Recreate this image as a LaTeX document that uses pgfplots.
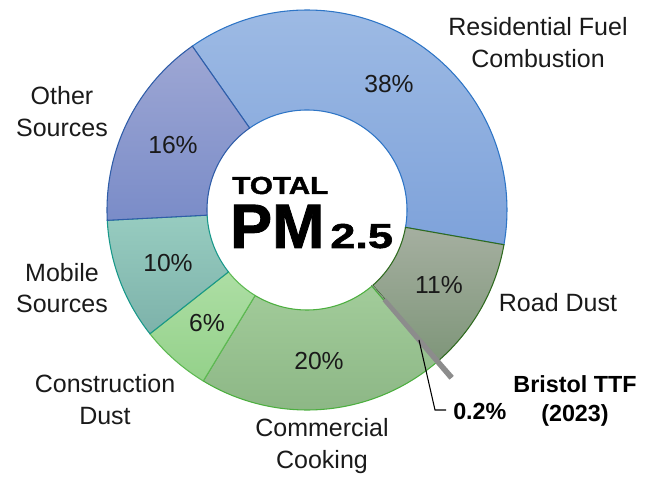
\documentclass[border=0pt]{standalone}
\usepackage{pgfplots}
\pgfplotsset{compat=1.18}
\usepackage{fontspec}
\setmainfont{Liberation Sans}
\newfontfamily\heavy[FakeBold=1.5]{Liberation Sans Bold}

\definecolor{resT}{HTML}{9DBAE4}\definecolor{resB}{HTML}{7EA2DA}\definecolor{resD}{HTML}{2E75C6}
\definecolor{roadT}{HTML}{A5AFA0}\definecolor{roadB}{HTML}{7F967A}\definecolor{roadD}{HTML}{2F6B1F}
\definecolor{ttfC}{HTML}{8C8C8C}
\definecolor{comT}{HTML}{A2CC9A}\definecolor{comB}{HTML}{8DB786}\definecolor{comD}{HTML}{4CAF3F}
\definecolor{conT}{HTML}{ADDEA4}\definecolor{conB}{HTML}{94D18A}\definecolor{conD}{HTML}{5DB952}
\definecolor{mobT}{HTML}{97CCC0}\definecolor{mobB}{HTML}{7DB2AA}\definecolor{mobD}{HTML}{18988A}
\definecolor{othT}{HTML}{9EA7D4}\definecolor{othB}{HTML}{7A8CC8}\definecolor{othD}{HTML}{2F5DA8}
\definecolor{txt}{HTML}{1A1A1A}

% donut geometry (axis units = px)
\def\cx{307}\def\cy{267}\def\Rout{200}\def\Rin{100}\def\startang{125}
\gdef\cum{0}

% #1 share (%), #2 top colour, #3 bottom colour, #4 border colour, #5 border width, #6 explode distance
\newcommand\seg[6]{%
  \pgfmathsetmacro\segA{\startang-3.6*\cum}%
  \pgfmathsetmacro\segB{\startang-3.6*(\cum+#1)}%
  \pgfmathsetmacro\segX{\cx+#6*cos((\segA+\segB)/2)}%
  \pgfmathsetmacro\segY{\cy+#6*sin((\segA+\segB)/2)}%
  \edef\doseg{\noexpand\addplot[draw=#4, line width=#5, top color=#2, bottom color=#3,
      domain=0:3, samples=241, variable=\noexpand\t]
    ({\segX+(\Rout-(\Rout-\Rin)*min(1,max(0,\noexpand\t-1)))*cos(\segA+(\segB-\segA)*min(min(\noexpand\t,1),3-\noexpand\t))},
     {\segY+(\Rout-(\Rout-\Rin)*min(1,max(0,\noexpand\t-1)))*sin(\segA+(\segB-\segA)*min(min(\noexpand\t,1),3-\noexpand\t))}) -- cycle;}%
  \doseg
  \pgfmathsetmacro\newcum{\cum+#1}\global\let\cum\newcum
}

\begin{document}
\begin{tikzpicture}
\begin{axis}[scale only axis, width=490.5pt, height=357.75pt,
  xmin=0, xmax=654, ymin=0, ymax=477, axis lines=none, clip=false]
\coordinate (bl) at (rel axis cs:0,0);
\coordinate (tr) at (rel axis cs:1,1);
% shares of total PM2.5 (%), clockwise from the top-left
\seg{37.5}{resT}{resB}{resD}{0.8pt}{0}   % Residential Fuel Combustion
\seg{10.8}{roadT}{roadB}{roadD}{0.8pt}{0} % Road Dust
\pgfmathsetmacro\ttfstart{\cum}
\seg{0.2}{ttfC}{ttfC}{ttfC}{0pt}{0}      % advance for Bristol TTF
\seg{19.9}{comT}{comB}{comD}{0.8pt}{0}    % Commercial Cooking
\seg{5.7}{conT}{conB}{conD}{0.8pt}{0}     % Construction Dust
\seg{9.8}{mobT}{mobB}{mobD}{0.8pt}{0}     % Mobile Sources
\seg{16.1}{othT}{othB}{othD}{0.8pt}{0}    % Other Sources
% Bristol TTF slice, exploded
\global\let\cum\ttfstart
\seg{0.2}{ttfC}{ttfC}{ttfC}{2.4pt}{20}

% leader for the TTF slice
\draw[black, line width=0.8pt] (axis cs:419,137) -- (axis cs:435,67) -- (axis cs:446,67);

% centre title
\node[anchor=base west, inner sep=0pt, xscale=1.2] at (axis cs:232,283) {\fontsize{18.5pt}{18.5pt}\heavy TOTAL};
\node[anchor=base west, inner sep=0pt] at (axis cs:230,229) {\fontsize{47pt}{47pt}\heavy PM};
\node[anchor=base west, inner sep=0pt, xscale=1.3] at (axis cs:330,229) {\fontsize{26pt}{26pt}\heavy 2.5};

% percentages
\begin{scope}[every node/.style={inner sep=0pt, text=txt, font=\fontsize{18.5pt}{20pt}\selectfont}]
\node at (axis cs:389,393) {38\%};
\node at (axis cs:439,192) {11\%};
\node at (axis cs:319,116) {20\%};
\node at (axis cs:207,154) {6\%};
\node at (axis cs:168,214) {10\%};
\node at (axis cs:173,332) {16\%};
\end{scope}

% category labels
\begin{scope}[every node/.style={inner sep=0pt, anchor=base, text=txt, font=\fontsize{18.75pt}{20pt}\selectfont}]
\node at (axis cs:538,441) {Residential Fuel};
\node at (axis cs:538,409) {Combustion};
\node at (axis cs:62,372) {Other};
\node at (axis cs:62,340) {Sources};
\node at (axis cs:62,195) {Mobile};
\node at (axis cs:62,164) {Sources};
\node at (axis cs:105,84) {Construction};
\node at (axis cs:105,52) {Dust};
\node at (axis cs:322,40) {Commercial};
\node at (axis cs:322,8) {Cooking};
\node at (axis cs:558,165) {Road Dust};
\end{scope}
\begin{scope}[every node/.style={inner sep=0pt, anchor=base, text=black, font=\fontsize{17.5pt}{20pt}\selectfont\bfseries}]
\node at (axis cs:575,84) {Bristol TTF};
\node at (axis cs:575,55) {(2023)};
\node[anchor=base west] at (axis cs:453,57) {0.2\%};
\end{scope}
\end{axis}
\pgfresetboundingbox
\path (bl) rectangle (tr);
\end{tikzpicture}
\end{document}
